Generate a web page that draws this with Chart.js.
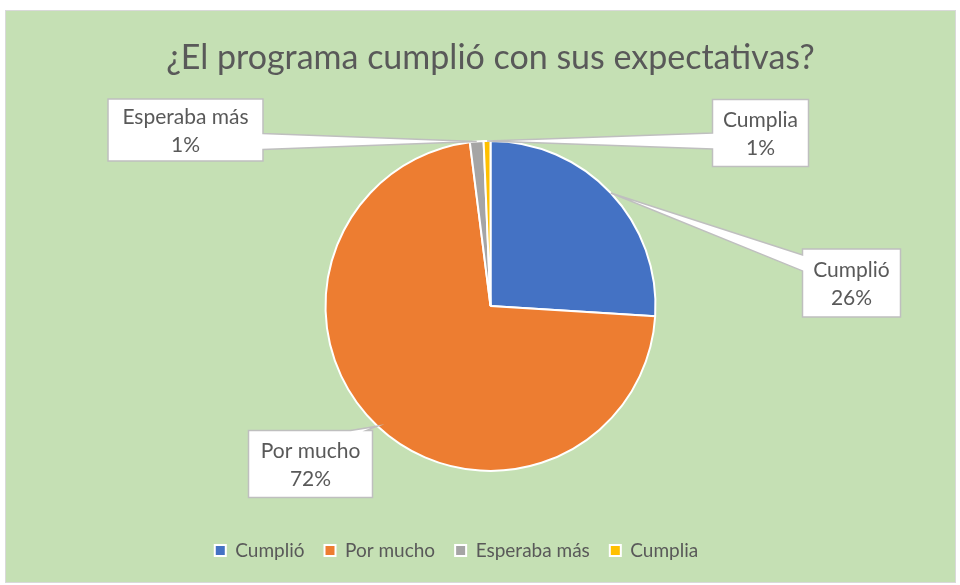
<!DOCTYPE html>
<html>
<head>
<meta charset="utf-8">
<script src="https://cdn.jsdelivr.net/npm/chart.js@4"></script>
<style>
  html, body { margin: 0; padding: 0; background: #ffffff; }
  #wrap {
    position: absolute; left: 5px; top: 10px;
    width: 949px; height: 571px;
    background: #c5e0b4; border: 1px solid #d9d9d9;
  }
</style>
</head>
<body>
<div id="wrap"><canvas id="chart" width="949" height="571"></canvas></div>
<script>
const categories = ["Cumplió", "Por mucho", "Esperaba más", "Cumplia"];
const values = [39, 108, 2, 1];
const colors = ["#4472c4", "#ed7d31", "#a5a5a5", "#ffc000"];
const titleText = "¿El programa cumplió con sus expectativas?";

// callout boxes: offset of box centre from the pie centre, box size, side the wedge leaves from
const callouts = [
  { dx: 361, dy: -23, w: 98, h: 68, side: "left" },
  { dx: -180, dy: 158, w: 124, h: 67, side: "top" },
  { dx: -305, dy: -176, w: 155, h: 62, side: "right" },
  { dx: 270, dy: -173, w: 96, h: 67, side: "left" }
];

const textColor = "#595959";
const fontFamily = "Lato, 'Open Sans', sans-serif";

const calloutPlugin = {
  id: "callouts",
  afterLayout(chart) {
    // legend sits a bit left of centre in the original
    chart.legend.left -= 34;
    chart.legend.right -= 34;
  },
  afterDatasetsDraw(chart) {
    const ctx = chart.ctx;
    const meta = chart.getDatasetMeta(0);
    const total = values.reduce((a, b) => a + b, 0);
    meta.data.forEach((arc, i) => {
      const c = callouts[i];
      const mid = (arc.startAngle + arc.endAngle) / 2;
      const tx = arc.x + Math.cos(mid) * arc.outerRadius;
      const ty = arc.y + Math.sin(mid) * arc.outerRadius;
      const cx = arc.x + c.dx, cy = arc.y + c.dy;
      const L = cx - c.w / 2, R = cx + c.w / 2, T = cy - c.h / 2, B = cy + c.h / 2;
      const hw = 8, inset = 14;
      const clamp = (v, a, b) => Math.max(a, Math.min(b, v));

      const pts = [[L, T]];
      if (c.side === "top") {
        const m = clamp(tx, L + inset, R - inset);
        pts.push([m - hw, T], [tx, ty], [m + hw, T]);
      }
      pts.push([R, T]);
      if (c.side === "right") {
        const m = clamp(ty, T + inset, B - inset);
        pts.push([R, m - hw], [tx, ty], [R, m + hw]);
      }
      pts.push([R, B], [L, B]);
      if (c.side === "left") {
        const m = clamp(ty, T + inset, B - inset);
        pts.push([L, m + hw], [tx, ty], [L, m - hw]);
      }

      ctx.save();
      ctx.beginPath();
      pts.forEach((p, k) => k === 0 ? ctx.moveTo(p[0], p[1]) : ctx.lineTo(p[0], p[1]));
      ctx.closePath();
      ctx.fillStyle = "#ffffff";
      ctx.fill();
      ctx.lineWidth = 1.5;
      ctx.strokeStyle = "#bfbfbf";
      ctx.stroke();

      ctx.fillStyle = textColor;
      ctx.font = "21px " + fontFamily;
      ctx.textAlign = "center";
      ctx.textBaseline = "middle";
      const pct = Math.round(values[i] / total * 100) + "%";
      ctx.fillText(categories[i], cx, cy - 13);
      ctx.fillText(pct, cx, cy + 15);
      ctx.restore();
    });
  }
};

new Chart(document.getElementById("chart"), {
  type: "pie",
  data: {
    labels: categories,
    datasets: [{
      data: values,
      backgroundColor: colors,
      borderColor: "#ffffff",
      borderWidth: 2
    }]
  },
  options: {
    responsive: false,
    animation: false,
    radius: 165,
    layout: { padding: { left: 20, right: 0, top: 0, bottom: 12 } },
    plugins: {
      title: {
        display: true,
        text: titleText,
        color: textColor,
        font: { family: fontFamily, size: 34, weight: "normal" },
        padding: { top: 27, bottom: 12 }
      },
      legend: {
        position: "bottom",
        labels: {
          color: textColor,
          font: { family: fontFamily, size: 19 },
          boxWidth: 11,
          boxHeight: 11,
          padding: 20
        }
      },
      tooltip: { enabled: false }
    }
  },
  plugins: [calloutPlugin]
});
</script>
</body>
</html>
